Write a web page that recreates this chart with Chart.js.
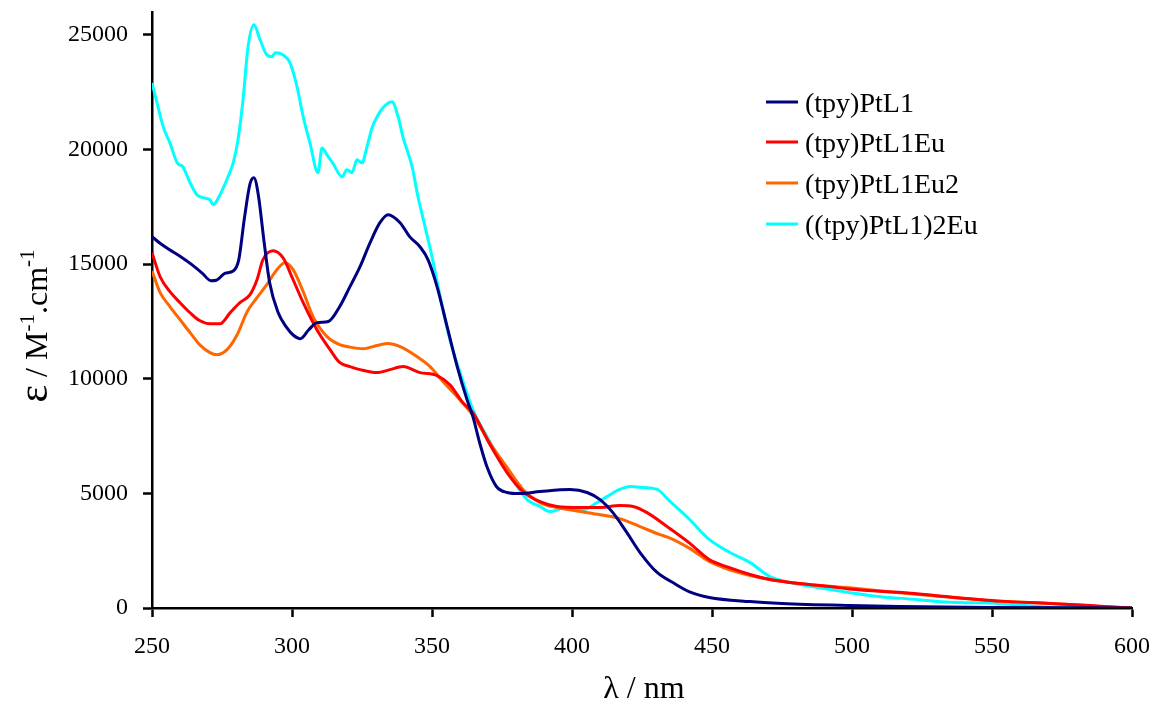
<!DOCTYPE html>
<html>
<head>
<meta charset="utf-8">
<title>UV-Vis</title>
<script src="https://cdn.jsdelivr.net/npm/chart.js@4.4.1/dist/chart.umd.min.js"></script>
<style>
html,body{margin:0;padding:0;background:#fff;}
#caja{width:1153px;height:705px;position:relative;}
</style>
</head>
<body>
<div id="caja"><canvas id="grafico"></canvas></div>
<script>

// ==============================
// DATOS
// ==============================

const seriesNames = ["(tpy)PtL1", "(tpy)PtL1Eu", "(tpy)PtL1Eu2", "((tpy)PtL1)2Eu"];

const xTicks = [250, 300, 350, 400, 450, 500, 550, 600];
const yTicks = [0, 5000, 10000, 15000, 20000, 25000];

// (tpy)PtL1
const ptNm  = [250,253,256,260,264,268,271,273,276,279,281,283,285,286.4,288,290,292,295,298,300.5,303,306,309,313,317,320.7,324.3,327.9,331.4,334.3,338.6,342,345.7,348.6,351.8,355.4,359,362.5,364.6,367,369.6,373,376.8,381.4,388.6,399.3,405.4,410,414.6,419.6,424.3,430.4,436,442,449,463.6,475,499,517,550,600];
const ptEps = [16200,15900,15650,15350,15000,14600,14280,14300,14600,14700,15200,17000,18500,18770,18000,16000,14200,12900,12250,11900,11750,12140,12450,12500,13140,14020,14890,15940,16810,17160,16810,16200,15760,15190,14020,12270,10530,9090,8350,7220,6170,5300,5040,4990,5080,5170,5040,4730,4160,3290,2420,1550,1110,700,460,280,200,110,65,25,0];

// (tpy)PtL1Eu
const euNm  = [250,252.9,256.4,260,263.6,267,270.7,274.3,277.9,281.4,285,287.5,289.6,293.2,296.8,300.4,304,308.9,313.6,317,320.7,324.3,330.4,335,339.6,345.7,351.8,356.4,361,364.6,370.7,376.8,382.5,388.6,394.6,402.9,410,417,421.8,426.8,434,442,449,456,463.6,470.7,477.9,492,499,511,518,535,553,570.7,588.6,600];
const euEps = [15500,14450,13800,13320,12880,12540,12400,12400,12880,13320,13670,14320,15190,15590,15280,14320,13320,12140,11270,10710,10530,10400,10270,10400,10530,10270,10140,9740,8960,8520,7130,5910,5080,4640,4430,4380,4380,4470,4430,4160,3550,2830,2110,1770,1460,1240,1110,940,830,720,680,480,300,200,80,0];

// (tpy)PtL1Eu2
const eu2Nm  = [250,252.9,256.4,260,263.6,267,270.7,273.2,276.8,280.4,284,287.5,291,294.6,297.5,300.4,304,307.5,312.5,317,320.7,325.4,330.4,334.3,338.6,344.6,349.3,353.9,359,364.6,370.7,376.8,382.5,388.6,394.6,402.9,410,417,424.3,431.4,435,442,449,456,463.6,470.7,485,499,516,535,553,570.7,588.6,600];
const eu2Eps = [14700,13760,13150,12580,12010,11490,11140,11050,11270,11920,12930,13540,14110,14760,15060,14760,13800,12710,11840,11490,11380,11310,11450,11540,11400,10970,10530,9880,9220,8400,7200,6130,5170,4600,4380,4210,4070,3900,3550,3200,3050,2600,2030,1680,1420,1240,1020,880,680,470,290,200,70,0];

// ((tpy)PtL1)2Eu
const dimNm  = [250,251.8,254,256.4,259,261,263.6,266,268.2,270.7,271.8,274.3,277,279,280.7,282.5,284.3,286.4,288.6,291,292.9,294,296.8,299.3,301.8,304,306.4,309.3,310.7,312.5,314.6,317.9,319.6,321.4,323.2,325,326.8,328.6,330.4,332.5,335.7,337.9,339.6,342.9,345,347.5,350,352.9,356.4,360,364.6,369.6,374.3,378.9,384,388.6,392,398,404,409,412.5,417,420.7,425.4,430.4,435,442,449,456.4,463.6,470.7,477.9,492,511,518,535,553,560,570,580,600];
const dimEps = [22910,22040,21000,20290,19420,19250,18550,18030,17900,17810,17590,18030,18770,19420,20420,22170,24480,25440,24790,24130,24050,24220,24130,23780,22740,21430,20290,18990,20070,19770,19400,18810,19120,18990,19550,19420,20130,20950,21430,21820,22080,21430,20560,19250,17940,16640,15330,13590,11710,10270,8650,7480,6470,5600,4730,4430,4210,4380,4290,4600,4860,5170,5300,5260,5170,4650,3860,2990,2420,1980,1370,1110,810,480,420,250,200,120,30,10,0];

const colores = ["#000080", "#FF0000", "#FF6600", "#00FFFF"];

// ==============================
// ARMAR SERIES
// ==============================

function puntos(nm, eps){
return nm.map((x, i) => ({x: x, y: eps[i]}));
}

const listas = [
puntos(ptNm, ptEps),
puntos(euNm, euEps),
puntos(eu2Nm, eu2Eps),
puntos(dimNm, dimEps)
];

const datasets = listas.map((d, i) => ({
label: seriesNames[i],
data: d,
borderColor: colores[i],
backgroundColor: colores[i],
borderWidth: 3,
pointRadius: 0,
cubicInterpolationMode: "monotone",
fill: false
}));

// ==============================
// TITULOS Y LEYENDA
// ==============================

const serif = "'Liberation Serif', 'Times New Roman', serif";

const textos = {
id: "textos",
afterDraw(chart){
const ctx = chart.ctx;
ctx.save();
ctx.fillStyle = "#000";

// titulo eje x
ctx.font = "32px " + serif;
ctx.textAlign = "center";
ctx.textBaseline = "alphabetic";
ctx.fillText("\u03bb / nm", 644, 698);

// titulo eje y (con superindices)
const partes = [
{t: "\u03b5", f: "42px " + serif, up: 0},
{t: " / M", f: "32px " + serif, up: 0},
{t: "-1", f: "21px " + serif, up: 13},
{t: ".cm", f: "32px " + serif, up: 0},
{t: "-1", f: "21px " + serif, up: 13}
];
let total = 0;
partes.forEach(p => { ctx.font = p.f; p.w = ctx.measureText(p.t).width; total += p.w; });
ctx.translate(47, 326 + total / 2);
ctx.rotate(-Math.PI / 2);
ctx.textAlign = "left";
let pos = 0;
partes.forEach(p => {
ctx.font = p.f;
ctx.fillText(p.t, pos, -p.up);
pos += p.w;
});
ctx.restore();

// leyenda
ctx.save();
const filas = [102, 142, 183, 224];
ctx.font = "28px " + serif;
ctx.textAlign = "left";
ctx.textBaseline = "alphabetic";
seriesNames.forEach((n, i) => {
ctx.strokeStyle = colores[i];
ctx.lineWidth = 3;
ctx.beginPath();
ctx.moveTo(766, filas[i]);
ctx.lineTo(798, filas[i]);
ctx.stroke();
ctx.fillStyle = "#000";
ctx.fillText(n, 805, filas[i] + 10);
});
ctx.restore();
}
};

// ==============================
// GRAFICO
// ==============================

const ctxGrafico = document.getElementById("grafico").getContext("2d");

let grafico = new Chart(ctxGrafico, {

type: "line",

data: { datasets: datasets },

options: {
responsive: true,
maintainAspectRatio: false,
animation: false,
layout: { padding: { left: 0, right: 21, top: 12, bottom: 0 } },

plugins: {
legend: { display: false },
tooltip: { enabled: false }
},

scales: {
x: {
type: "linear",
min: 250,
max: 600,
afterBuildTicks: s => { s.ticks = xTicks.map(v => ({value: v})); },
afterFit: s => { s.height = 97; s.paddingLeft = 0; s.paddingRight = 0; },
grid: { drawOnChartArea: false, drawTicks: true, tickLength: 9, tickWidth: 2.5, tickColor: "#000" },
border: { color: "#000", width: 2.5 },
ticks: { color: "#000", padding: 15, maxRotation: 0, callback: v => String(v), font: { family: serif, size: 24 } }
},
y: {
type: "linear",
min: 0,
max: 26000,
afterBuildTicks: s => { s.ticks = yTicks.map(v => ({value: v})); },
afterFit: s => { s.width = 152; s.paddingTop = 0; s.paddingBottom = 0; },
grid: { drawOnChartArea: false, drawTicks: true, tickLength: 9, tickWidth: 2.5, tickColor: "#000" },
border: { color: "#000", width: 2.5 },
ticks: { color: "#000", padding: 15, callback: v => String(v), font: { family: serif, size: 24 } }
}
}
},

plugins: [textos]

});

</script>
</body>
</html>
